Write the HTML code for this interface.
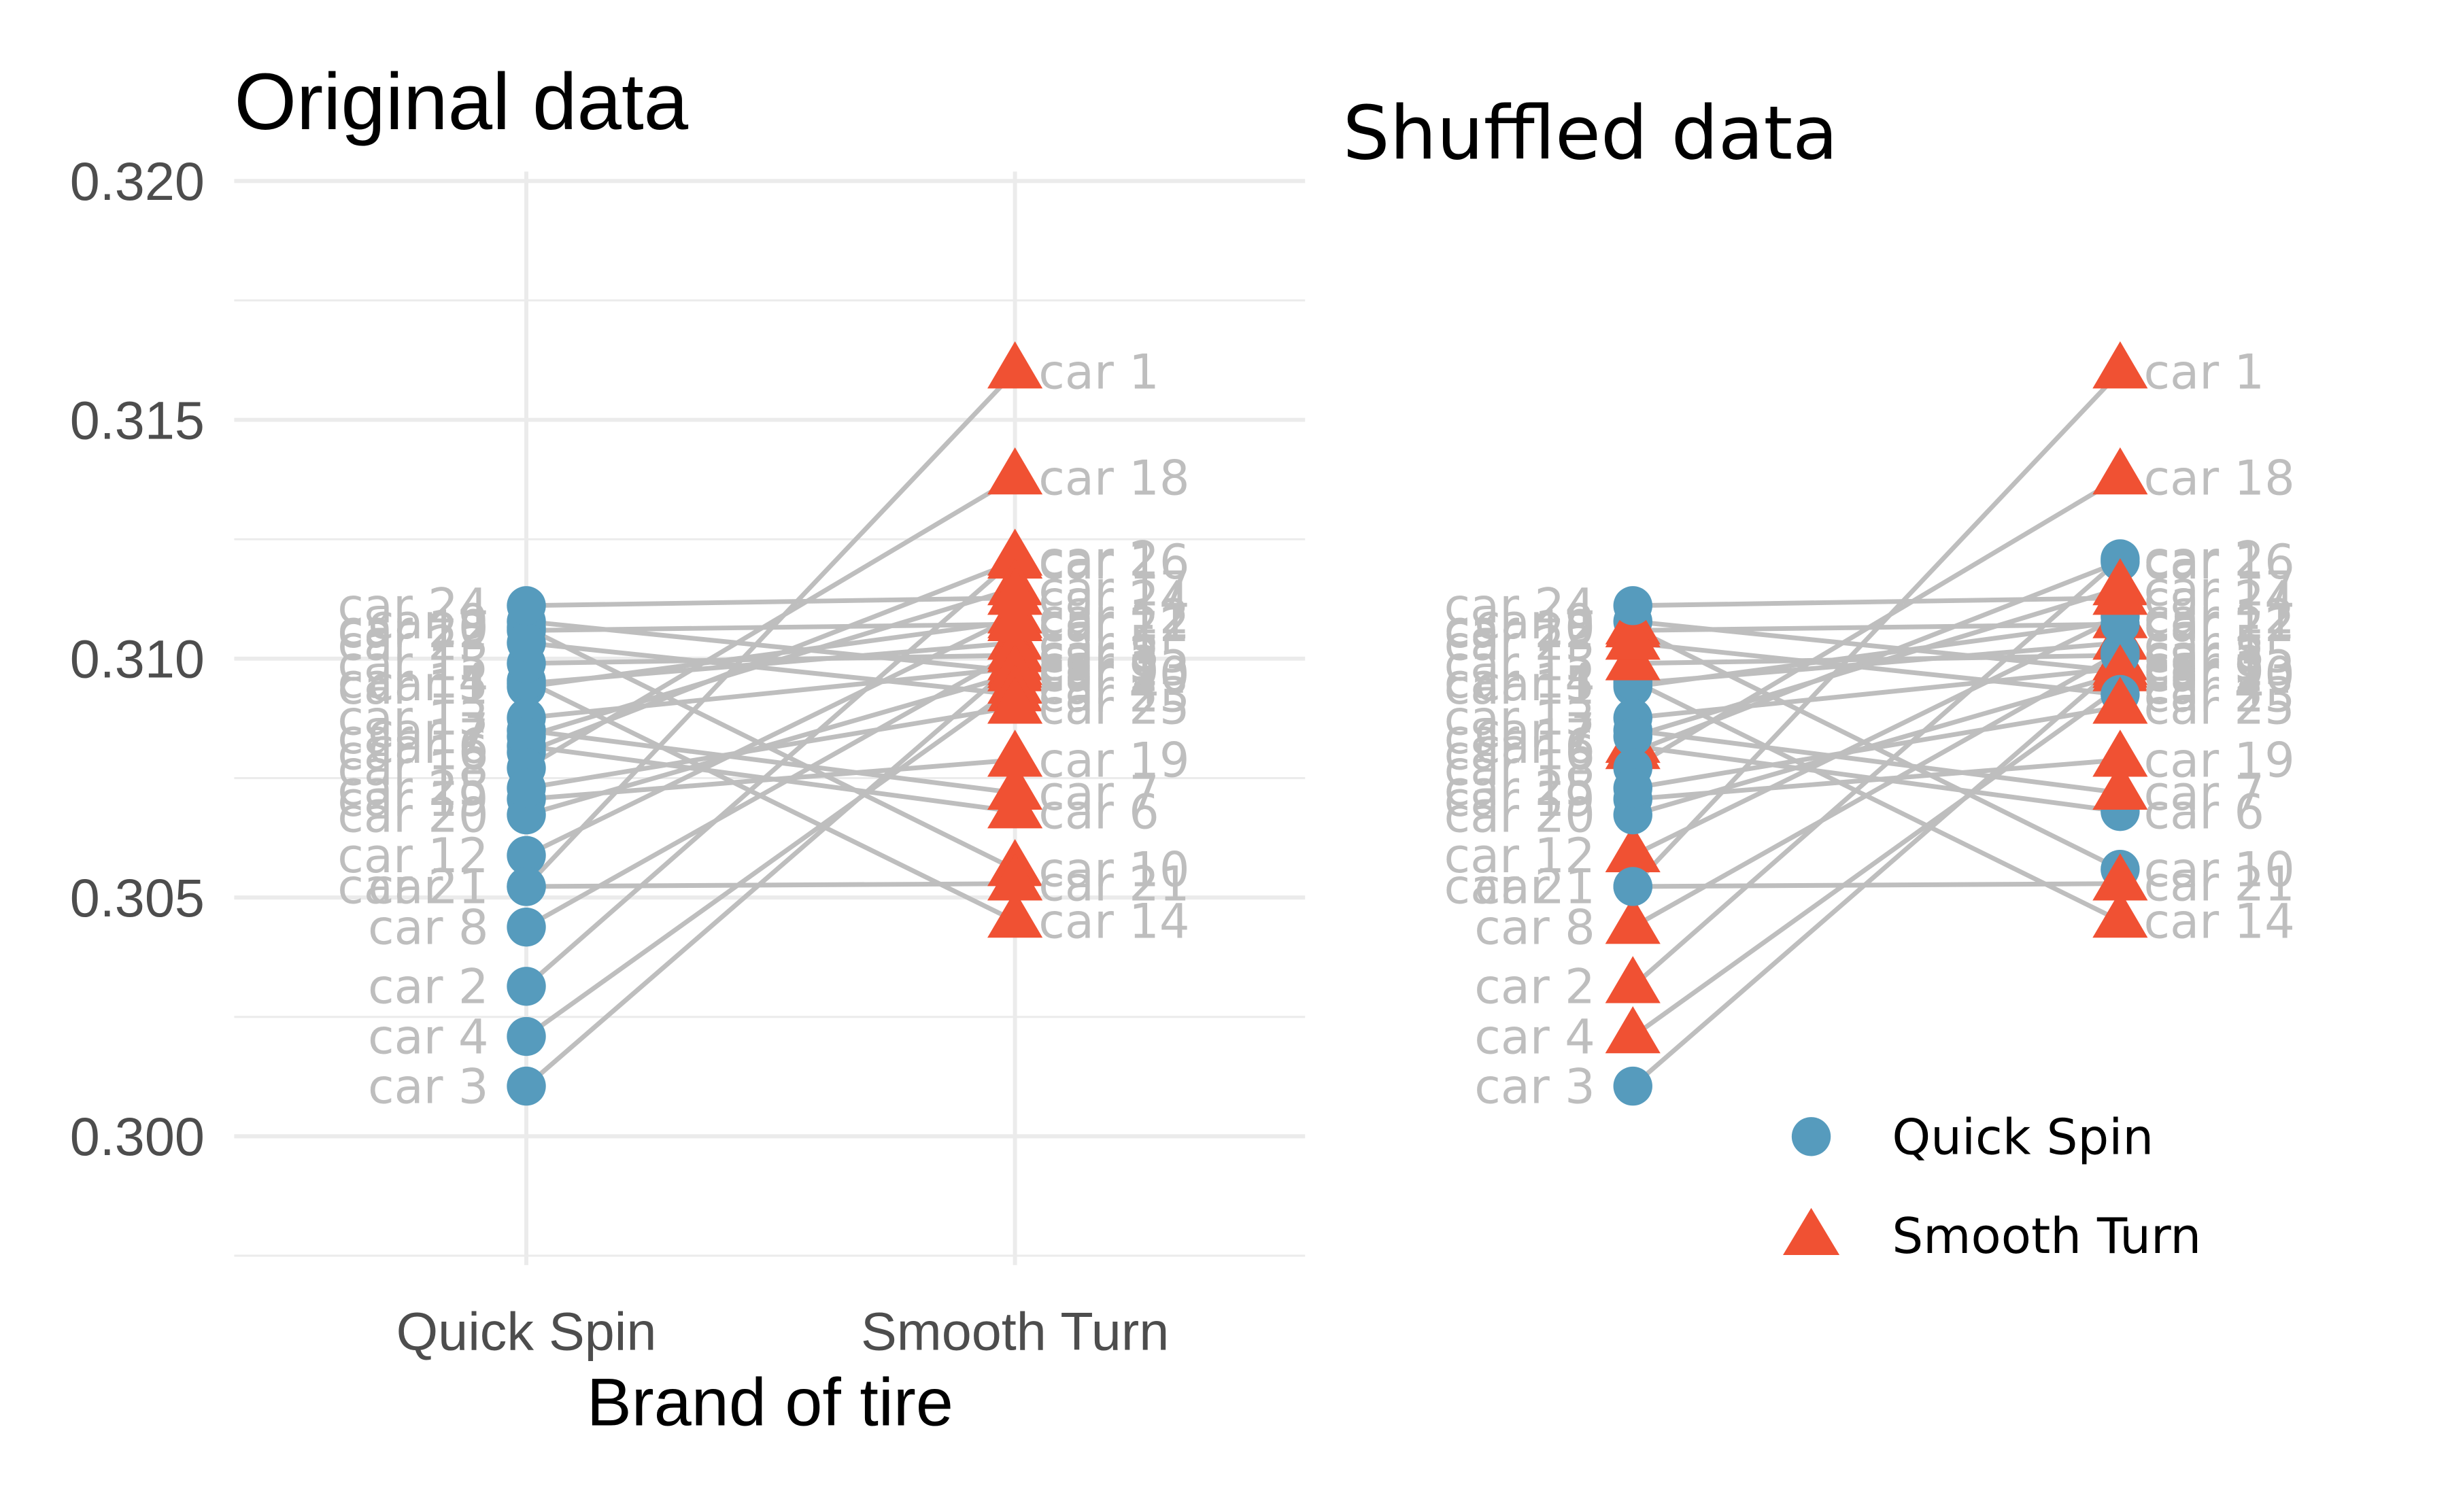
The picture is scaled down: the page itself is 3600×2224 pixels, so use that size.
<!DOCTYPE html>
<html><head><meta charset="utf-8"><style>
html,body{margin:0;padding:0;background:#fff;}
svg{display:block;}
</style></head><body>
<svg id="chart" width="3600" height="2224" viewBox="0 0 3600 2224" xmlns="http://www.w3.org/2000/svg">
<g transform="scale(0.9898)">
<text x="348" y="192" font-family="Liberation Sans, sans-serif" font-size="119" fill="#000">Original data</text>
<text x="1995" y="236" font-family="DejaVu Sans, sans-serif" font-size="110" fill="#000">Shuffled data</text>
<text x="1144" y="2118" text-anchor="middle" font-family="Liberation Sans, sans-serif" font-size="100" fill="#000">Brand of tire</text>
<g id="grid"></g>
<g id="left"></g>
<g id="right"></g>
<g>
<circle cx="2691" cy="1689" r="29" fill="#569BBD"/>
<text x="2811" y="1715" font-family="DejaVu Sans, sans-serif" font-size="73" fill="#000">Quick Spin</text>
<polygon points="2691,1795 2733,1865 2649,1865" fill="#F05133"/>
<text x="2811" y="1862" font-family="DejaVu Sans, sans-serif" font-size="73" fill="#000">Smooth Turn</text>
</g>
</g>
</svg>
<script>
const cars = ["car 1","car 2","car 3","car 4","car 5","car 6","car 7","car 8","car 9","car 10","car 11","car 12","car 13","car 14","car 15","car 16","car 17","car 18","car 19","car 20","car 21","car 22","car 23","car 24","car 25"];
const quickSpin = [0.30523,0.30314,0.30105,0.30209,0.30948,0.30817,0.30850,0.30438,0.31078,0.31065,0.30941,0.30588,0.30876,0.30954,0.30990,0.30804,0.30837,0.30771,0.30706,0.30673,0.30523,0.31059,0.31033,0.31111,0.30729];
const smoothTurn = [0.31601,0.31209,0.30990,0.30941,0.31033,0.30680,0.30719,0.31013,0.30974,0.30559,0.31078,0.31088,0.30980,0.30451,0.31007,0.31203,0.31147,0.31379,0.30788,0.30967,0.30529,0.31072,0.30925,0.31127,0.30899];
const shuffledSwap = [0,1,0,1,0,1,0,1,0,1,0,1,0,0,1,1,0,0,0,0,0,1,1,0,0];
const yTicks = [0.300,0.305,0.310,0.315,0.320];
const yTickLabels = ["0.300","0.305","0.310","0.315","0.320"];
const yMinor = [0.2975,0.3025,0.3075,0.3125,0.3175];
const xCats = ["Quick Spin","Smooth Turn"];

const NS="http://www.w3.org/2000/svg";
const BLUE="#569BBD", RED="#F05133", GREY="#bebebe";
function y(v){return 269+(0.320-v)*70980;}
const leftX=[782,1508], rightX=[2426,3150];
function mk(tag,attrs,parent){const e=document.createElementNS(NS,tag);for(const k in attrs)e.setAttribute(k,attrs[k]);parent.appendChild(e);return e;}

const grid=document.getElementById('grid');
yMinor.forEach((v,i)=>{const l=mk('line',{x1:348,x2:1939,y1:y(v),y2:y(v),stroke:'#ebebeb','stroke-width':3},grid);

});
yTicks.forEach((v,i)=>{const l=mk('line',{x1:348,x2:1939,y1:y(v),y2:y(v),stroke:'#ebebeb','stroke-width':6},grid);


const t=mk('text',{x:304,y:y(v)+28,'text-anchor':'end','font-family':'Liberation Sans, sans-serif','font-size':80,fill:'#4d4d4d'},grid);
t.textContent=yTickLabels[i];

});
xCats.forEach((c,i)=>{const l=mk('line',{x1:leftX[i],x2:leftX[i],y1:255,y2:1880,stroke:'#ebebeb','stroke-width':6},grid);


const t=mk('text',{x:leftX[i],y:2006,'text-anchor':'middle','font-family':'Liberation Sans, sans-serif','font-size':80,fill:'#4d4d4d'},grid);
t.textContent=c;

});

function circle(g,x,yy){const c=mk('circle',{cx:x,cy:yy,r:29,fill:BLUE},g);

}
function tri(g,x,yy){const p=mk('polygon',{points:`${x},${yy-45} ${x+41},${yy+25} ${x-41},${yy+25}`,fill:RED},g);

}

function panel(g,xs,shuffled){
  cars.forEach((c,i)=>{const l=mk('line',{x1:xs[0],y1:y(quickSpin[i]),x2:xs[1],y2:y(smoothTurn[i]),stroke:GREY,'stroke-width':7},g);
  
  });
  cars.forEach((c,i)=>{const sw=shuffled&&shuffledSwap[i];
    if(sw)tri(g,xs[0],y(quickSpin[i]));else circle(g,xs[0],y(quickSpin[i]));});
  cars.forEach((c,i)=>{const sw=shuffled&&shuffledSwap[i];
    if(sw)circle(g,xs[1],y(smoothTurn[i]));else tri(g,xs[1],y(smoothTurn[i]));});
  cars.forEach((c,i)=>{
    const a=mk('text',{x:xs[0]-56,y:y(quickSpin[i])+25,'text-anchor':'end','font-family':'DejaVu Sans, sans-serif','font-size':71,fill:GREY},g);
    a.textContent=c;
    
    
    const b=mk('text',{x:xs[1]+35,y:y(smoothTurn[i])+25,'font-family':'DejaVu Sans, sans-serif','font-size':71,fill:GREY},g);
    b.textContent=c;
    
    
  });
}
panel(document.getElementById('left'),leftX,false);
panel(document.getElementById('right'),rightX,true);
</script>
</body></html>
